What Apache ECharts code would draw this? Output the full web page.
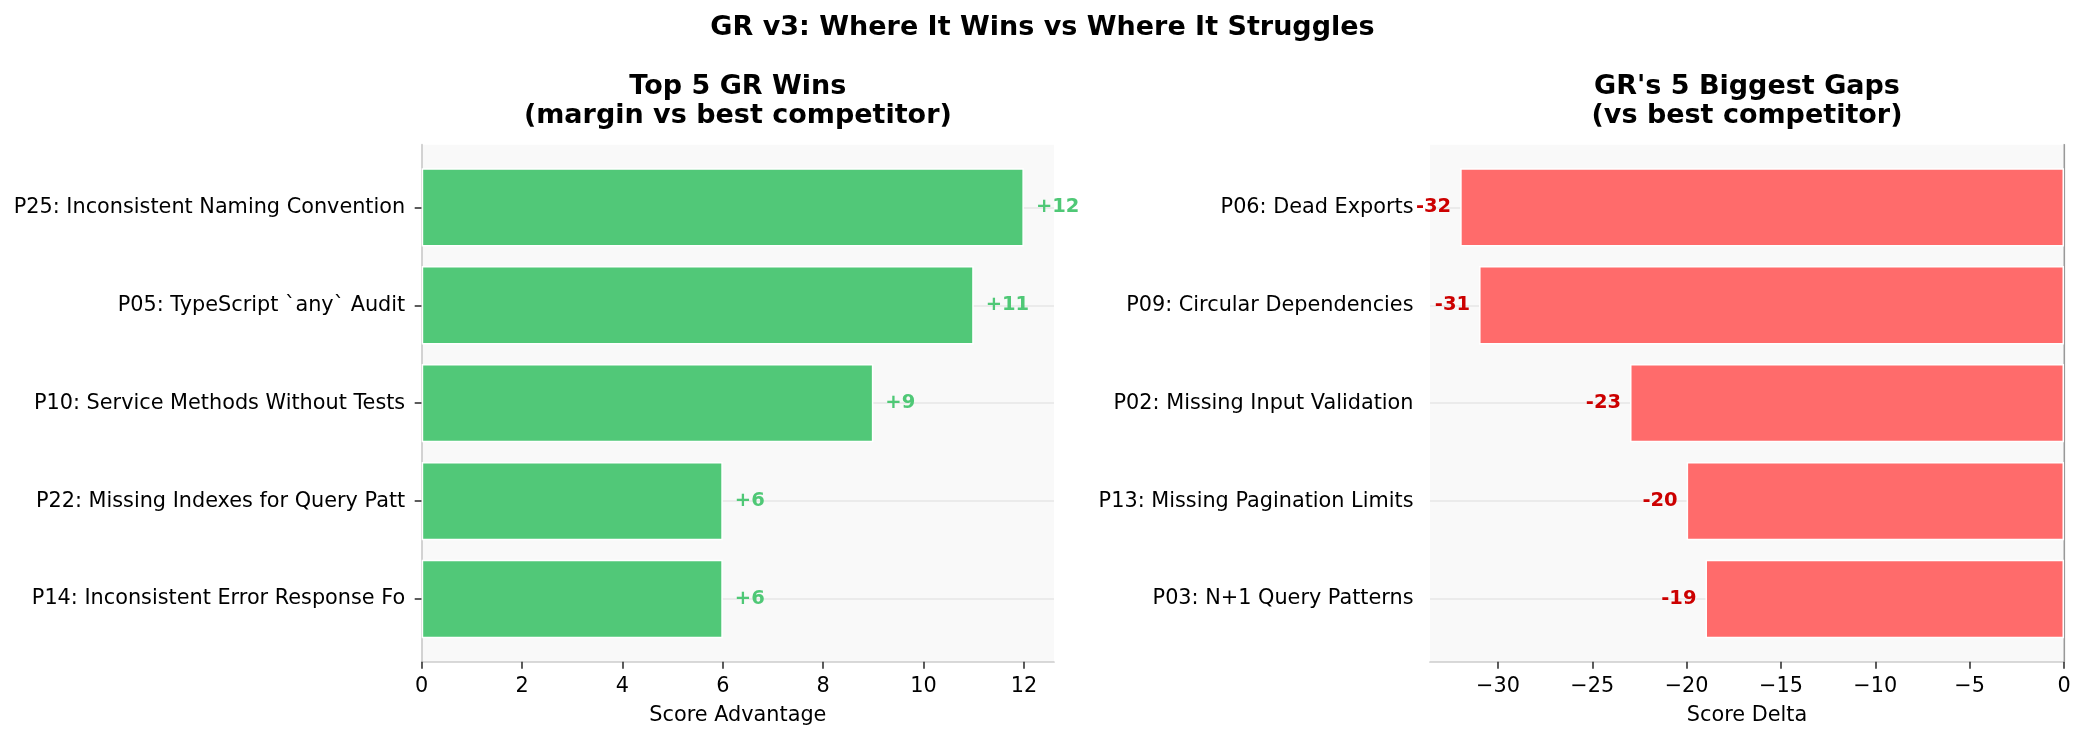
<!DOCTYPE html>
<html>
<head>
<meta charset="utf-8">
<script src="https://cdn.jsdelivr.net/npm/echarts@6/dist/echarts.min.js"></script>
<style>
html,body{margin:0;padding:0;background:#fff;}
#c{width:2085px;height:740px;}
</style>
</head>
<body>
<div id="c"></div>
<script>
// ---- data ----
const winCategories = [
  "P25: Inconsistent Naming Convention",
  "P05: TypeScript `any` Audit",
  "P10: Service Methods Without Tests",
  "P22: Missing Indexes for Query Patt",
  "P14: Inconsistent Error Response Fo"
];
const winValues = [12, 11, 9, 6, 6];

const gapCategories = [
  "P06: Dead Exports",
  "P09: Circular Dependencies",
  "P02: Missing Input Validation",
  "P13: Missing Pagination Limits",
  "P03: N+1 Query Patterns"
];
const gapValues = [-32, -31, -23, -20, -19];

const winTicks = [0, 2, 4, 6, 8, 10, 12];
const gapTicks = [-30, -25, -20, -15, -10, -5, 0];

const suptitle = "GR v3: Where It Wins vs Where It Struggles";
const winTitle = "Top 5 GR Wins\n(margin vs best competitor)";
const gapTitle = "GR's 5 Biggest Gaps\n(vs best competitor)";
const winXName = "Score Advantage";
const gapXName = "Score Delta";

// ---- layout ----
const FONT = "DejaVu Sans";
const axTop = 144.7, axH = 517;
const L = {left: 421.7, width: 632.3, min: 0, max: 12.6};
const R = {left: 1430, width: 634, min: -33.6, max: 0};
const unit = axH / 5.28;
const barTop = axTop + 0.64 * unit;
const barH = 4 * unit;

const fmtTick = v => v < 0 ? "\u2212" + Math.abs(v) : String(v);

function bgAxes(p, gi, ticks, name) {
  return {
    grid: {left: p.left, top: axTop, width: p.width, height: axH, show: true,
           backgroundColor: "#f9f9f9", borderWidth: 0},
    x: {type: "value", gridIndex: gi, min: p.min, max: p.max,
        axisLine: {show: true, onZero: false, lineStyle: {color: "#cccccc", width: 1.7}},
        axisTick: {show: true, length: 7, lineStyle: {color: "#333", width: 1.6}, customValues: ticks},
        axisLabel: {show: true, fontFamily: FONT, fontSize: 20.8, color: "#000", margin: 14,
                    customValues: ticks, formatter: fmtTick},
        splitLine: {show: false},
        name: name, nameLocation: "middle", nameGap: 43,
        nameTextStyle: {fontFamily: FONT, fontSize: 20.8, color: "#000"}},
  };
}

const bgL = bgAxes(L, 0, winTicks, winXName);
const bgR = bgAxes(R, 1, gapTicks, gapXName);

const hiddenAxis = {axisLine: {show: false}, axisTick: {show: false},
                    axisLabel: {show: false}, splitLine: {show: false}};

function catAxis(gi, cats) {
  return {type: "category", gridIndex: gi, data: cats, inverse: true, boundaryGap: false,
          axisLine: {show: false},
          axisTick: {show: true, length: 7, lineStyle: {color: "#333", width: 1.6}},
          axisLabel: {fontFamily: FONT, fontSize: 20.8, color: "#000", margin: 16.5,
                      padding: [5, 0, 0, 0]},
          splitLine: {show: true, lineStyle: {color: "#e6e6e6", width: 1.7}}};
}

const option = {
  animation: false,
  backgroundColor: "#ffffff",
  grid: [
    bgL.grid,
    bgR.grid,
    {left: L.left, top: barTop, width: L.width, height: barH, show: false},
    {left: R.left, top: barTop, width: R.width, height: barH, show: false}
  ],
  xAxis: [
    bgL.x,
    bgR.x,
    Object.assign({type: "value", gridIndex: 2, min: L.min, max: L.max}, hiddenAxis),
    Object.assign({type: "value", gridIndex: 3, min: R.min, max: R.max}, hiddenAxis)
  ],
  yAxis: [
    {type: "value", gridIndex: 0, min: 0, max: 1, position: "left",
     axisLine: {show: true, lineStyle: {color: "#cccccc", width: 1.7}},
     axisTick: {show: false}, axisLabel: {show: false}, splitLine: {show: false}},
    {type: "value", gridIndex: 1, min: 0, max: 1, position: "left",
     axisLine: {show: true, lineStyle: {color: "#cccccc", width: 1.7}},
     axisTick: {show: false}, axisLabel: {show: false}, splitLine: {show: false}},
    catAxis(2, winCategories),
    catAxis(3, gapCategories),
    {type: "value", gridIndex: 1, min: 0, max: 1, position: "right",
     axisLine: {show: true, lineStyle: {color: "#999999", width: 1.2}},
     axisTick: {show: false}, axisLabel: {show: false}, splitLine: {show: false}}
  ],
  series: [
    {type: "bar", xAxisIndex: 2, yAxisIndex: 2, data: winValues, barWidth: 0.8 * unit, clip: false,
     itemStyle: {color: "#51c878", borderColor: "#ffffff", borderWidth: 1.5},
     label: {show: true, position: "right", distance: 12, formatter: p => "+" + p.value,
             padding: [3, 0, 0, 0],
             fontFamily: FONT, fontSize: 19.5, fontWeight: "bold", color: "#4fc876"}},
    {type: "bar", xAxisIndex: 3, yAxisIndex: 3, data: gapValues, barWidth: 0.8 * unit, clip: false,
     itemStyle: {color: "#ff6b6b", borderColor: "#ffffff", borderWidth: 1.5},
     label: {show: true, position: "left", distance: 9, formatter: p => String(p.value),
             padding: [3, 0, 0, 0],
             fontFamily: FONT, fontSize: 19.5, fontWeight: "bold", color: "#cc0000"}}
  ],
  graphic: [
    {type: "text", x: 1042.5, y: 27.5, style: {text: suptitle, fontFamily: FONT, fontSize: 27,
      fontWeight: "bold", fill: "#000", align: "center", verticalAlign: "middle"}},
    {type: "text", x: L.left + L.width / 2, y: 101.5, style: {text: winTitle, fontFamily: FONT, fontSize: 27,
      fontWeight: "bold", fill: "#000", align: "center", verticalAlign: "middle", lineHeight: 29.5}},
    {type: "text", x: R.left + R.width / 2, y: 101.5, style: {text: gapTitle, fontFamily: FONT, fontSize: 27,
      fontWeight: "bold", fill: "#000", align: "center", verticalAlign: "middle", lineHeight: 29.5}}
  ]
};

const chart = echarts.init(document.getElementById("c"), null, {renderer: "canvas"});
chart.setOption(option);
</script>
</body>
</html>
